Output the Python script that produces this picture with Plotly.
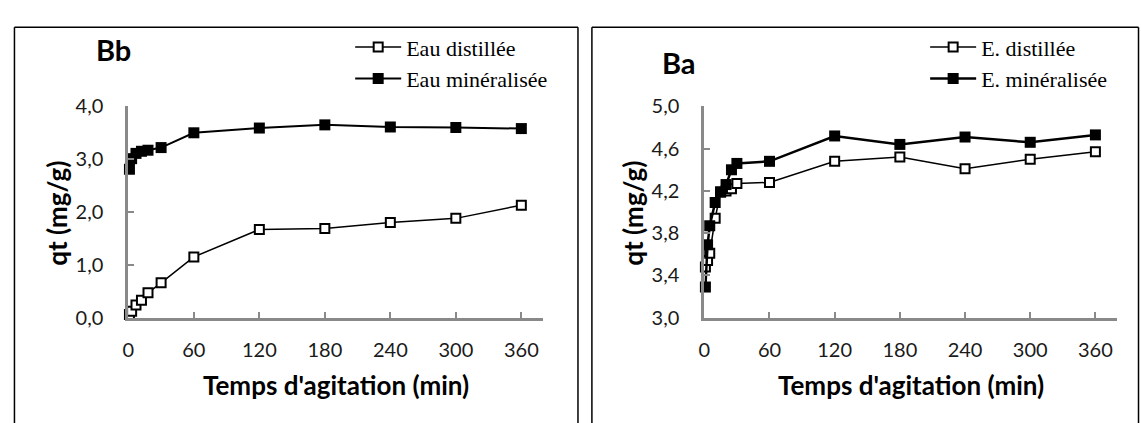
import plotly.graph_objects as go

W, H = 1141, 423

# ---- data ----
t_bb = [1, 3, 7, 12, 18, 30, 60, 120, 180, 240, 300, 360]
bb_distillee = [0.06, 0.12, 0.24, 0.33, 0.47, 0.66, 1.15, 1.67, 1.69, 1.80, 1.88, 2.13]
bb_mineralisee = [2.81, 3.01, 3.11, 3.15, 3.17, 3.22, 3.50, 3.59, 3.65, 3.61, 3.60, 3.58]

t_ba = [1, 3, 5, 10, 15, 20, 25, 30, 60, 120, 180, 240, 300, 360]
ba_distillee = [3.48, 3.54, 3.61, 3.94, 4.19, 4.20, 4.22, 4.27, 4.28, 4.48, 4.52, 4.41, 4.50, 4.57]
ba_mineralisee = [3.29, 3.69, 3.87, 4.09, 4.19, 4.26, 4.40, 4.46, 4.48, 4.72, 4.64, 4.71, 4.66, 4.73]

x_ticks = [0, 60, 120, 180, 240, 300, 360]
y_ticks_bb = [0.0, 1.0, 2.0, 3.0, 4.0]
y_ticks_ba = [3.0, 3.4, 3.8, 4.2, 4.6, 5.0]

names_bb = ["Eau distillée", "Eau minéralisée"]
names_ba = ["E. distillée", "E. minéralisée"]

x_title = "Temps d'agitation (min)"
y_title = "qt (mg/g)"

def px(x):
    return x / W

def py(y):
    return (H - y) / H

fig = go.Figure()

open_marker = dict(symbol="square", size=9, color="white", line=dict(color="black", width=2))
fill_marker = dict(symbol="square", size=11, color="black", line=dict(color="black", width=0))

fig.add_trace(go.Scatter(x=t_bb, y=bb_distillee, name=names_bb[0], mode="lines+markers",
                         line=dict(color="black", width=1.5), marker=open_marker,
                         xaxis="x", yaxis="y", legend="legend", cliponaxis=False))
fig.add_trace(go.Scatter(x=t_bb, y=bb_mineralisee, name=names_bb[1], mode="lines+markers",
                         line=dict(color="black", width=2), marker=fill_marker,
                         xaxis="x", yaxis="y", legend="legend", cliponaxis=False))
fig.add_trace(go.Scatter(x=t_ba, y=ba_distillee, name=names_ba[0], mode="lines+markers",
                         line=dict(color="black", width=1.5), marker=open_marker,
                         xaxis="x2", yaxis="y2", legend="legend2", cliponaxis=False))
fig.add_trace(go.Scatter(x=t_ba, y=ba_mineralisee, name=names_ba[1], mode="lines+markers",
                         line=dict(color="black", width=2.5), marker=fill_marker,
                         xaxis="x2", yaxis="y2", legend="legend2", cliponaxis=False))

tickfont = dict(family="Lato", size=20, color="#1a1a1a")
axis_common = dict(showline=True, linecolor="#898989", linewidth=3, ticks="inside",
                   ticklen=6, tickwidth=2, tickcolor="#898989", showgrid=False,
                   zeroline=False, tickfont=tickfont, fixedrange=True)

y_top, y_bot = 99, 323
fig.update_layout(
    width=W, height=H, margin=dict(l=0, r=0, t=0, b=0),
    paper_bgcolor="white", plot_bgcolor="white", separators=", ",
    xaxis=dict(domain=[px(123), px(540)], range=[0, 380], tickvals=x_ticks,
               anchor="y", ticklabelstandoff=12, **axis_common),
    yaxis=dict(domain=[py(y_bot), py(y_top)], range=[0, 4], tickvals=y_ticks_bb,
               tickformat=".1f", anchor="x", ticklabelstandoff=18, **axis_common),
    xaxis2=dict(domain=[px(702), px(1117)], range=[0, 380], tickvals=x_ticks,
                anchor="y2", ticklabelstandoff=12, **axis_common),
    yaxis2=dict(domain=[py(y_bot), py(y_top)], range=[3, 5], tickvals=y_ticks_ba,
                tickformat=".1f", anchor="x2", ticklabelstandoff=18, **axis_common),
    legend=dict(x=px(346), y=py(14), xanchor="left", yanchor="top",
                font=dict(family="Liberation Serif", size=22, color="black"),
                bgcolor="rgba(0,0,0,0)", tracegroupgap=0, itemwidth=46),
    legend2=dict(x=px(924), y=py(14), xanchor="left", yanchor="top",
                 font=dict(family="Liberation Serif", size=22, color="black"),
                 bgcolor="rgba(0,0,0,0)", tracegroupgap=0, itemwidth=46),
    showlegend=True,
)

# panel borders (open at the bottom: the frames continue below the picture)
border = dict(color="black", width=1.5)
for (xl, xr) in [(8.5, 575), (589, 1138.5)]:
    fig.add_shape(type="line", xref="paper", yref="paper", x0=px(xl), x1=px(xl),
                  y0=-0.05, y1=py(15), line=border)
    fig.add_shape(type="line", xref="paper", yref="paper", x0=px(xr), x1=px(xr),
                  y0=-0.05, y1=py(15), line=border)
    fig.add_shape(type="line", xref="paper", yref="paper", x0=px(xl), x1=px(xr),
                  y0=py(15), y1=py(15), line=border)

annos = [
    dict(text="<b>Bb</b>", x=px(108), y=py(39), font=dict(family="Lato", size=29, color="black")),
    dict(text="<b>Ba</b>", x=px(677), y=py(52), font=dict(family="Lato", size=29, color="black")),
    dict(text="<b>" + x_title + "</b>", x=px(331.5), y=py(394), font=dict(family="Lato", size=26, color="black")),
    dict(text="<b>" + x_title + "</b>", x=px(909.5), y=py(394), font=dict(family="Lato", size=26, color="black")),
    dict(text="<b>" + y_title + "</b>", x=px(51), y=py(212), textangle=-90, font=dict(family="Lato", size=26, color="black")),
    dict(text="<b>" + y_title + "</b>", x=px(630), y=py(212), textangle=-90, font=dict(family="Lato", size=26, color="black")),
]
for a in annos:
    fig.add_annotation(xref="paper", yref="paper", showarrow=False,
                       xanchor="center", yanchor="middle", **a)

fig.write_html("out.html", config={"displayModeBar": False},
               post_script="document.body.style.margin='0';")
